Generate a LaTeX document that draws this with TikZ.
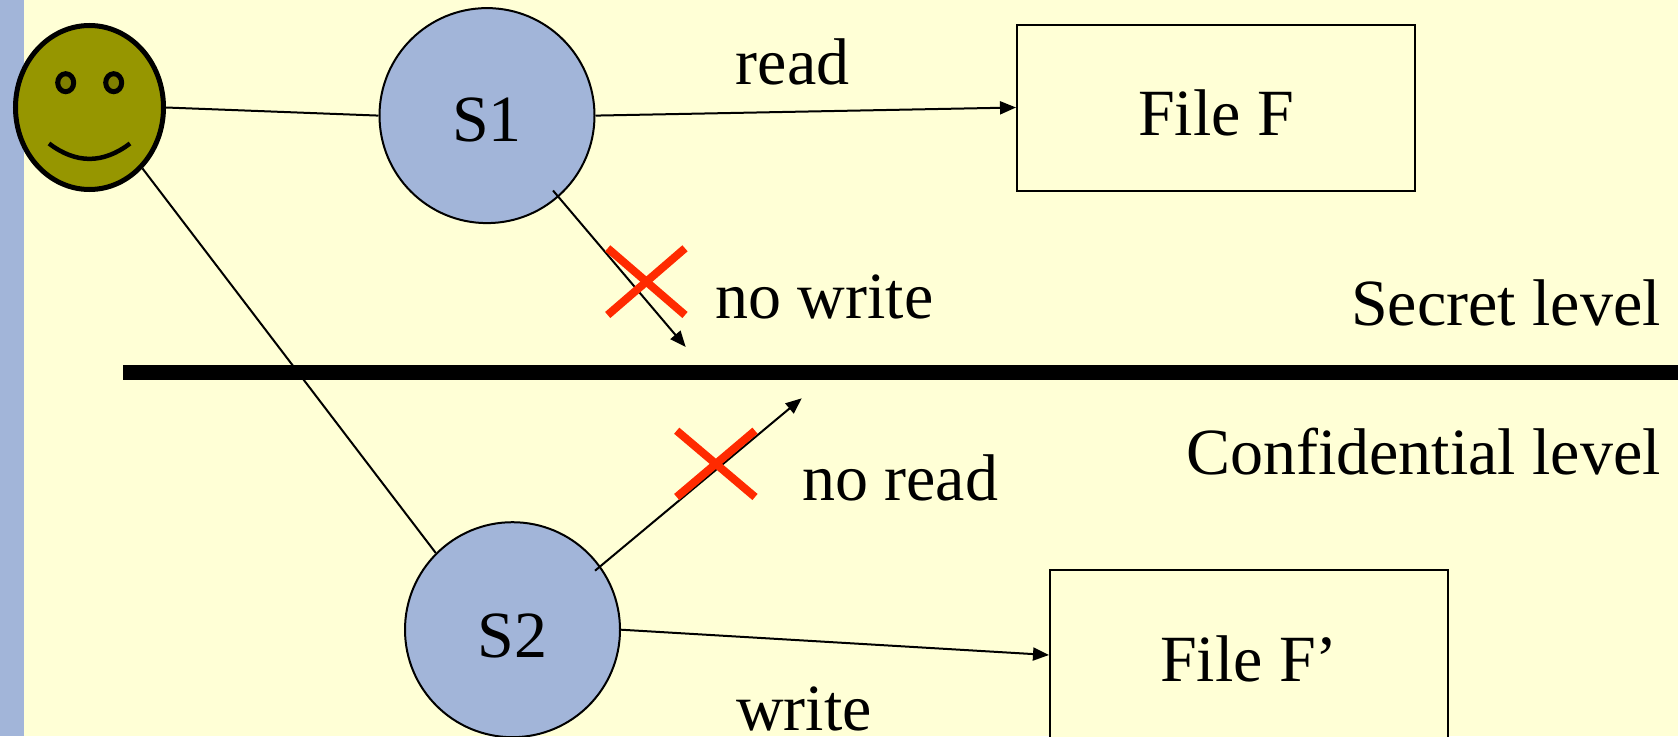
\documentclass[tikz,border=0pt]{standalone}
\usepackage{fontspec}
\setmainfont{Liberation Serif}
\usetikzlibrary{shapes.geometric,arrows.meta}
\definecolor{bgyellow}{HTML}{FFFFD6}
\definecolor{barblue}{HTML}{A2B5D9}
\definecolor{faceolive}{HTML}{969600}
\definecolor{eyeolive}{HTML}{808000}
\definecolor{crossred}{HTML}{FF2A00}
\tikzset{
  bigtext/.style={font=\fontsize{66}{78}\selectfont},
  subject/.style={circle,draw=black,line width=2pt,fill=barblue,minimum size=215pt,inner sep=0pt,bigtext},
  filebox/.style={rectangle,draw=black,line width=2pt,fill=bgyellow,minimum width=398pt,inner sep=0pt,bigtext},
  lbl/.style={inner sep=0pt,bigtext},
  conn/.style={line width=2pt,draw=black},
  arrowconn/.style={conn,-{Triangle[length=16pt,width=13pt]}},
  crossmark/.style={line width=8pt,draw=crossred},
  eye/.style={ellipse,draw=black,line width=5pt,fill=eyeolive,minimum width=16pt,minimum height=18pt,inner sep=0pt}
}
\begin{document}
\begin{tikzpicture}[x=1pt,y=-1pt]
\useasboundingbox (0,0) rectangle (1678,736);
\clip (0,0) rectangle (1678,736);
\fill[bgyellow] (0,0) rectangle (1678,736);
\fill[barblue] (0,0) rectangle (24,736);
\fill[black] (123,364.5) rectangle (1678,380);

\node[ellipse,draw=black,line width=5pt,fill=faceolive,minimum width=148pt,minimum height=164pt,inner sep=0pt] (face) at (89.5,107.5) {};
\node[eye] (eyeL) at (65.7,82.7) {};
\node[eye] (eyeR) at (113.7,82.7) {};
\draw[line width=4.5pt,draw=black] (49,143.5) .. controls (76,164) and (103,164) .. (130,143.5);

\coordinate (nwstart) at (553,190.5);
\coordinate (nwend) at (685.7,347);
\coordinate (nrstart) at (595,570.7);
\coordinate (nrend) at (801.7,398.3);

\node[subject,text height=51pt,text depth=0pt] (s1) at (487,115.6) {S1};
\node[subject,text height=55pt,text depth=0pt] (s2) at (512.5,629.7) {S2};
\node[filebox,minimum height=166pt,text height=55pt,text depth=0pt] (fileF) at (1216,107.5) {File F};
\node[filebox,minimum height=170pt,text height=52pt,text depth=0pt] (fileG) at (1249,655) {File F’};

\draw[arrowconn] (nwstart) -- (nwend);
\draw[arrowconn] (nrstart) -- (nrend);
\draw[conn] (face.0) -- (s1.180);
\draw[conn] (face.-49.4) -- (s2.135);
\draw[arrowconn] (s1.0) -- (fileF.west);
\draw[arrowconn] (s2.0) -- (fileG.west);

\draw[crossmark] (607.7,248.3) -- (685,315);
\draw[crossmark] (607.7,315) -- (685,248.3);
\draw[crossmark] (676.7,430.7) -- (755,497);
\draw[crossmark] (676.7,497) -- (755,430.7);

\node[lbl,anchor=base] (readl) at (792.5,84.5) {read};
\node[lbl,anchor=base west] (nowrite) at (715,318) {no write};
\node[lbl,anchor=base east] (secret) at (1661,325) {Secret level};
\node[lbl,anchor=base east] (conf) at (1661,474) {Confidential level};
\node[lbl,anchor=base west] (noread) at (802,500) {no read};
\node[lbl,anchor=base] (writel) at (804,730) {write};
\end{tikzpicture}
\end{document}
